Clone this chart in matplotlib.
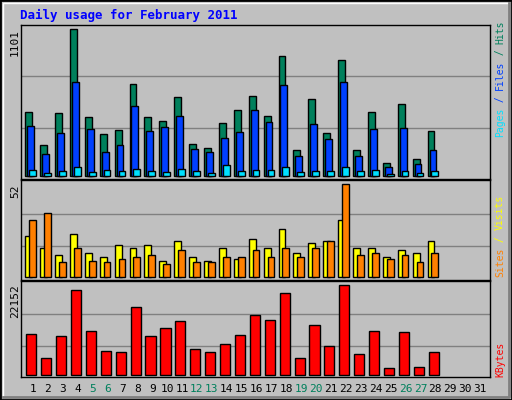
import numpy as np
import matplotlib
matplotlib.use("Agg")
import matplotlib.pyplot as plt
from matplotlib.patches import Rectangle

days = np.arange(1, 29)
hits = [481, 229, 473, 1101, 443, 316, 346, 690, 443, 413, 593, 242, 212, 399,
        496, 600, 451, 899, 197, 578, 324, 869, 197, 481, 100, 541, 130, 339]
files = [376, 167, 324, 705, 354, 182, 234, 526, 339, 369, 451, 204, 182, 286,
         331, 496, 406, 683, 152, 391, 279, 705, 152, 354, 70, 361, 92, 197]
pages = [47, 25, 40, 70, 32, 47, 40, 55, 40, 32, 55, 40, 25, 85,
         40, 47, 47, 70, 32, 40, 40, 70, 40, 47, 17, 40, 25, 40]
visits = [23, 16, 12, 24, 13, 11, 18, 16, 18, 9, 20, 11, 9, 16,
          10, 21, 16, 27, 13, 19, 20, 32, 16, 16, 11, 15, 13, 20]
sites = [32, 36, 8, 16, 9, 8, 10, 11, 12, 7, 15, 8, 8, 11,
         11, 15, 11, 16, 11, 16, 20, 52, 12, 13, 10, 12, 8, 13]
kbytes = [10025, 4204, 9540, 20940, 10753, 5902, 5660, 16817, 9540, 11481,
          13179, 6387, 5660, 7600, 9783, 14876, 13421, 20212, 4204, 12208,
          7115, 22152, 5174, 10753, 1779, 10510, 2021, 5660]
weekend_days = [5, 6, 12, 13, 19, 20, 26, 27]

BG = "#c0c0c0"
GREEN = "#00805c"
mono = "DejaVu Sans Mono"
XLIM = (0.195, 31.67)

fig = plt.figure(figsize=(5.12, 4.0), dpi=100, facecolor=BG)
W, H = 512, 400

# outer frame with bevel
fig.patches.append(Rectangle((0, 0), 1, 1, transform=fig.transFigure,
                             fill=False, ec="black", lw=2))
fig.add_artist(plt.Line2D([3/W, 3/W, 1 - 3/W], [3/H, 1 - 3/H, 1 - 3/H],
                          transform=fig.transFigure, color="white", lw=1))
fig.add_artist(plt.Line2D([3/W, 1 - 3/W, 1 - 3/W], [3/H, 3/H, 1 - 3/H],
                          transform=fig.transFigure, color="#808080", lw=2))


def panel(top, bottom, ymin, ymax):
    ax = fig.add_axes([21/W, 1 - bottom/H, 469/W, (bottom - top)/H])
    ax.set_facecolor(BG)
    ax.set_xlim(*XLIM)
    ax.set_ylim(ymin, ymax)
    ax.set_xticks([])
    ax.set_yticks([])
    for s in ax.spines.values():
        s.set_color("black")
        s.set_linewidth(1)
    return ax


def bars(ax, vals, off, width, color, z):
    ax.bar(days + off, vals, width=width, align="edge", color=color,
           edgecolor="black", linewidth=1, zorder=z)


# Hits / Files / Pages
ax1 = panel(25, 179, -22, 1131)
for f in (0.33, 0.68):
    ax1.axhline(max(hits) * f, color="#808080", lw=1, zorder=1)
bars(ax1, hits, -0.52, 0.46, GREEN, 2)
bars(ax1, files, -0.39, 0.46, "#0040ff", 3)
bars(ax1, pages, -0.26, 0.46, "#00e0ff", 4)

# Visits / Sites
ax2 = panel(180, 280, -1.9, 54.3)
for f in (0.33, 0.68):
    ax2.axhline(max(sites) * f, color="#808080", lw=1, zorder=1)
bars(ax2, visits, -0.52, 0.46, "#ffff00", 2)
bars(ax2, sites, -0.26, 0.46, "#ff8000", 3)

# KBytes
ax3 = panel(281, 377, -485, 23122)
for f in (0.32, 0.68):
    ax3.axhline(max(kbytes) * f, color="#808080", lw=1, zorder=1)
bars(ax3, kbytes, -0.45, 0.68, "#ff0000", 2)

# title
fig.text(20/W, 1 - 15/H, "Daily usage for February 2011", family=mono,
         weight="bold", color="#0000ff", fontsize=9, va="center")

# left max labels
for y, txt in ((29, str(max(hits))), (184, str(max(sites))), (284, str(max(kbytes)))):
    fig.text(15/W, 1 - y/H, txt, family=mono, fontsize=8, rotation=90,
             ha="center", va="top")

# right legends, bottom to top
def legend(y_bottom, parts):
    y = y_bottom
    for txt, col in parts:
        fig.text(500/W, 1 - y/H, txt, family=mono, fontsize=7,
                 rotation=90, ha="center", va="bottom", color=col)
        y -= len(txt) * 5.84

legend(137, [("Pages", "#00e0ff"), (" / ", "#0040ff"), ("Files", "#0040ff"),
             (" / ", GREEN), ("Hits", GREEN)])
legend(277, [("Sites", "#ff8000"), (" / ", "#ffff00"), ("Visits", "#ffff00")])
legend(377, [("KBytes", "#ff0000")])

# day labels, placed in the panels' day coordinates
for d in range(1, 32):
    ax3.text(d, -0.13, str(d), transform=ax3.get_xaxis_transform(),
             family=mono, fontsize=8, ha="center", va="center",
             color=GREEN if d in weekend_days else "black")

fig.savefig("out.png", dpi=100, facecolor=BG)
